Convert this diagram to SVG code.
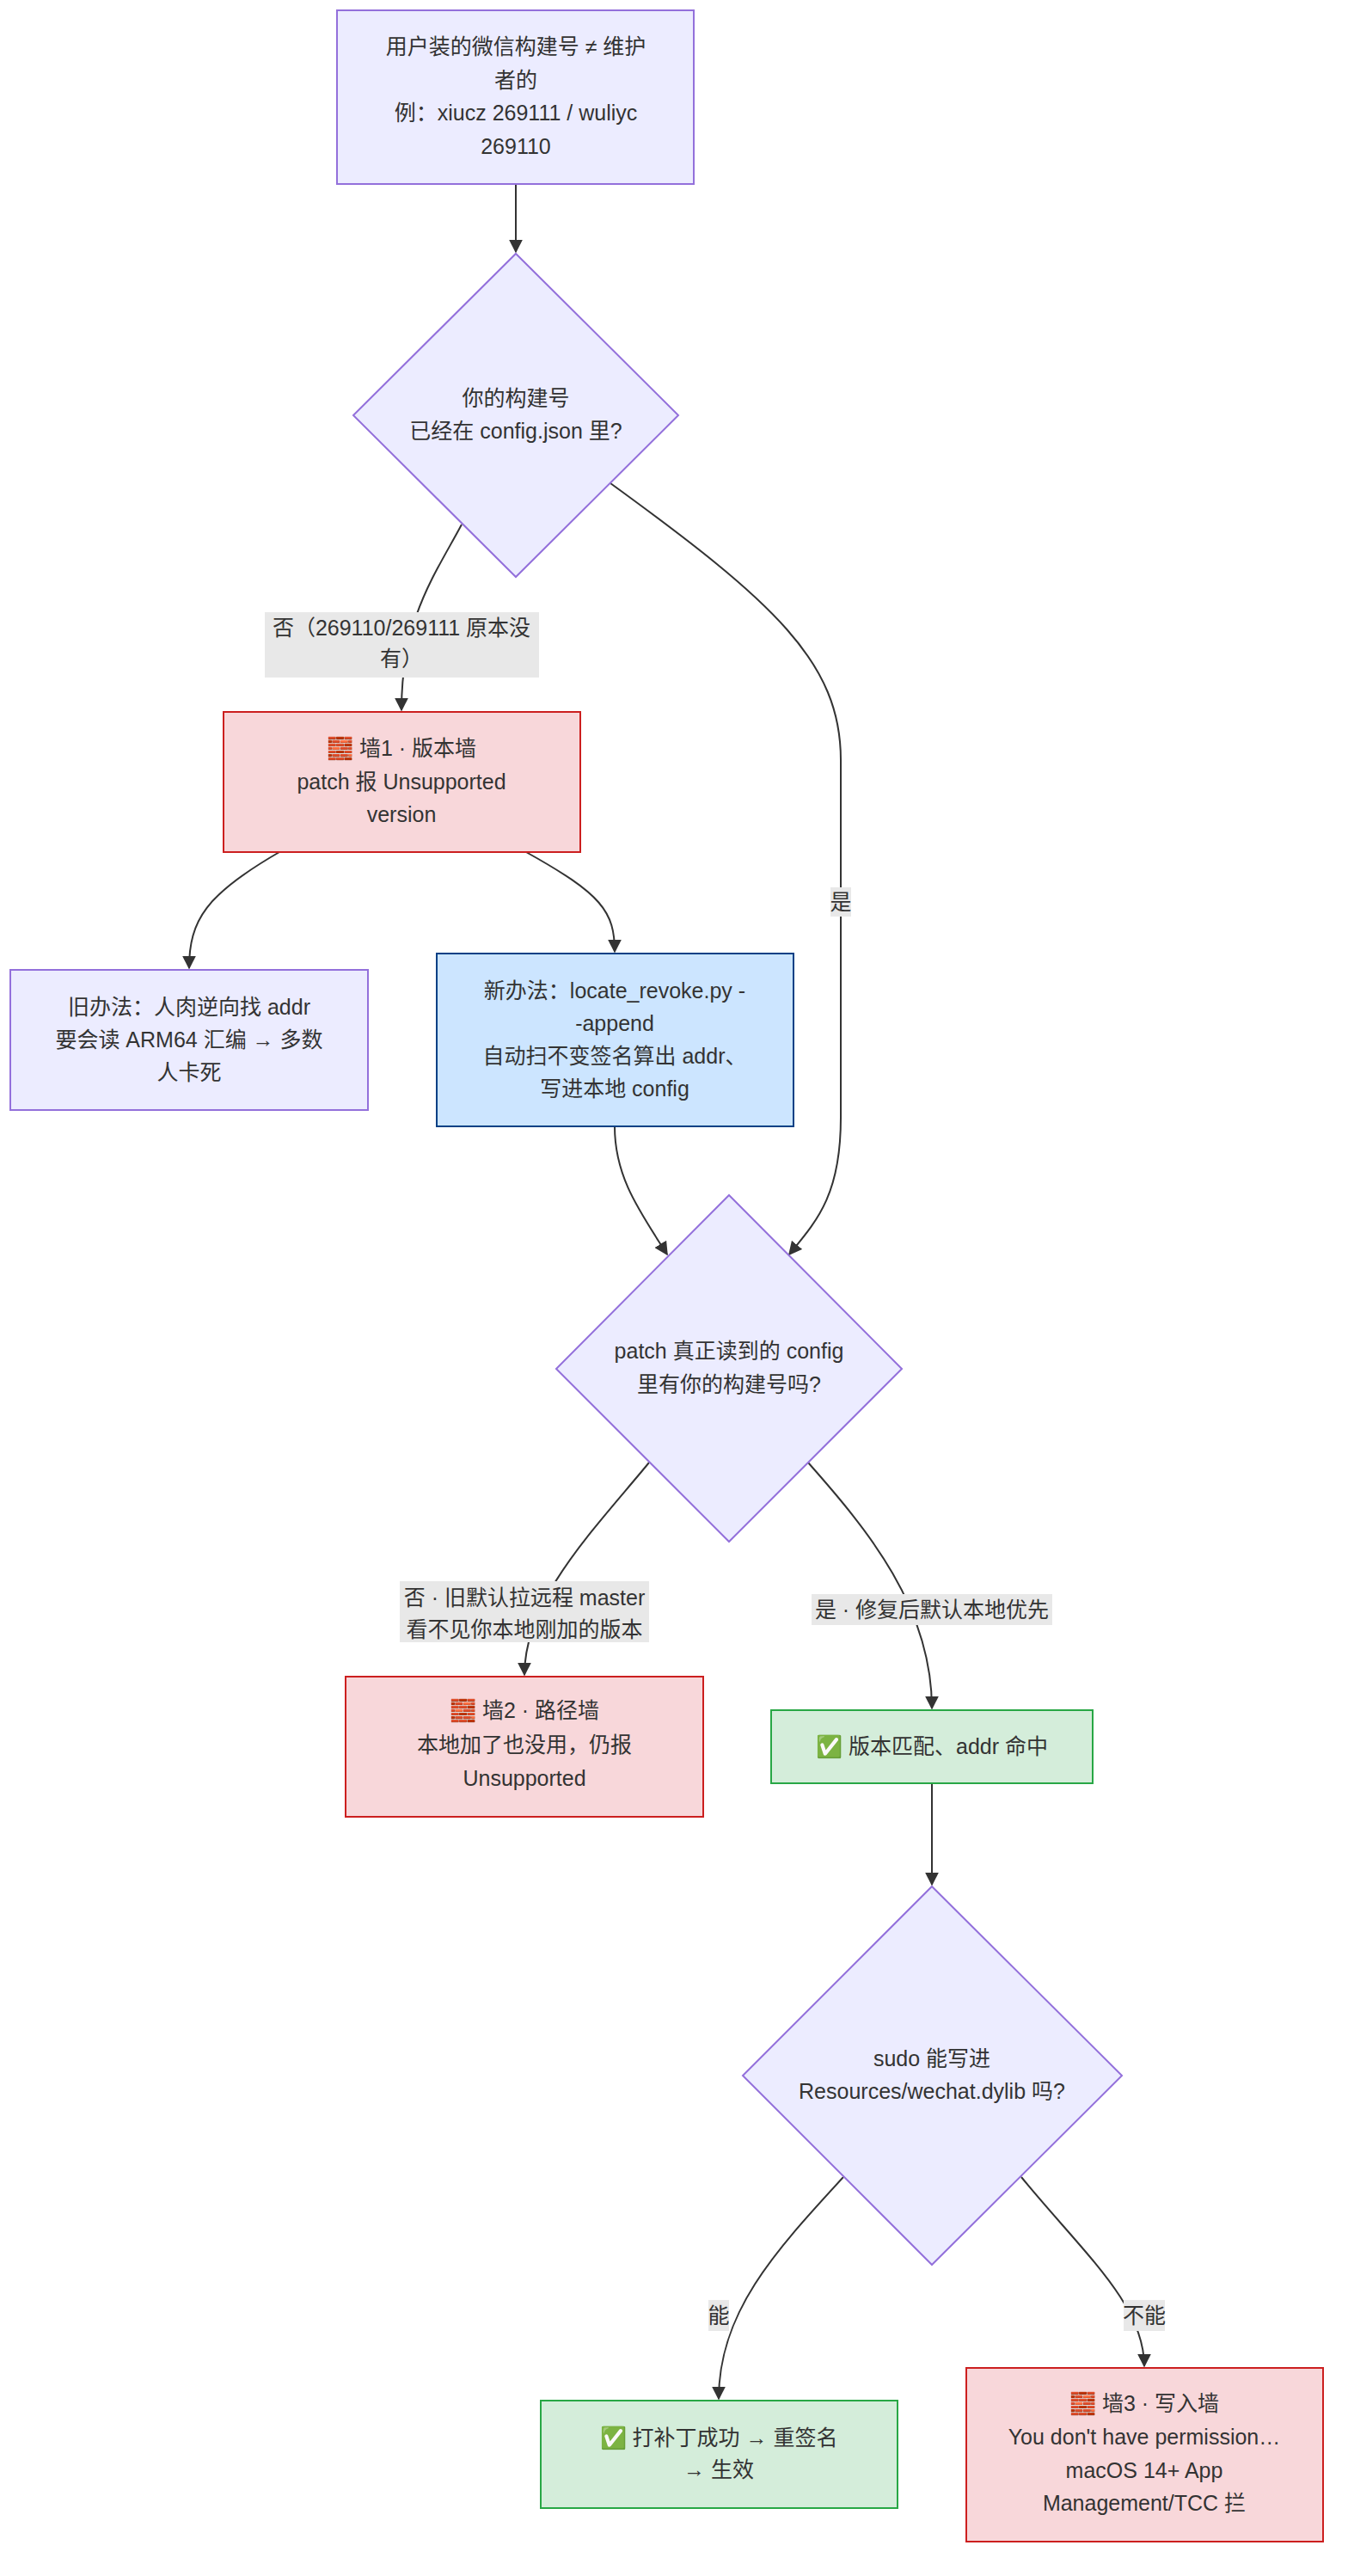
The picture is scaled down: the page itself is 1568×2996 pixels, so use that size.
<svg xmlns="http://www.w3.org/2000/svg" width="1568" height="2996" viewBox="0 0 1568 2996">
<style>
text{font-family:"Liberation Sans","Noto Sans CJK SC",sans-serif;font-size:25px;fill:#333;text-anchor:middle}
.p{fill:#ECECFF;stroke:#9370DB;stroke-width:2}
.r{fill:#F8D7DA;stroke:#CC1F1F;stroke-width:2}
.b{fill:#CCE5FF;stroke:#004085;stroke-width:2}
.g{fill:#D4EDDA;stroke:#28A745;stroke-width:2}
.e{fill:none;stroke:#333;stroke-width:2;marker-end:url(#a)}
.lb{fill:#E8E8E8}
</style>
<defs><marker id="a" viewBox="0 0 10 10" refX="9" refY="5" markerWidth="8" markerHeight="8" orient="auto"><path d="M0,0L10,5L0,10z" fill="#333"/></marker></defs>
<g id="edges">
<path class="e" d="M600,214V293"/>
<path class="e" d="M537,610C505,670 467,720 467,826"/>
<path class="e" d="M710,562C900,700 978,770 978,884V1300C978,1390 950,1420 918,1459"/>
<path class="e" d="M325,991C240,1040 220,1070 220,1126"/>
<path class="e" d="M612,991C700,1040 715,1060 715,1107"/>
<path class="e" d="M715,1310C715,1370 745,1410 776,1459"/>
<path class="e" d="M755,1701C690,1780 610,1860 610,1948"/>
<path class="e" d="M940,1701C1010,1780 1084,1870 1084,1987"/>
<path class="e" d="M1084,2074V2192"/>
<path class="e" d="M981,2532C900,2620 836,2690 836,2790"/>
<path class="e" d="M1188,2532C1260,2620 1331,2680 1331,2752"/>
<rect class="lb" x="308" y="712" width="319" height="76"/>
<text x="467" y="739">否（269110/269111 原本没</text><text x="467" y="775">有）</text>
<rect class="lb" x="966" y="1032" width="24" height="34"/>
<text x="978" y="1058">是</text>
<rect class="lb" x="465" y="1839" width="290" height="71"/>
<text x="610" y="1867">否 · 旧默认拉远程 master</text><text x="610" y="1904">看不见你本地刚加的版本</text>
<rect class="lb" x="944" y="1854" width="280" height="36"/>
<text x="1084" y="1881">是 · 修复后默认本地优先</text>
<rect class="lb" x="824" y="2675" width="24" height="36"/>
<text x="836" y="2702">能</text>
<rect class="lb" x="1307" y="2675" width="48" height="36"/>
<text x="1331" y="2702">不能</text>
</g>
<g id="n1"><rect class="p" x="392" y="12" width="415" height="202"/>
<text x="600" y="63">用户装的微信构建号 ≠ 维护</text><text x="600" y="102">者的</text><text x="600" y="140">例：xiucz 269111 / wuliyc</text><text x="600" y="179">269110</text></g>
<g id="d1"><polygon class="p" points="600,295 789,483 600,671 411,483"/>
<text x="600" y="472">你的构建号</text><text x="600" y="510">已经在 config.json 里?</text></g>
<g id="w1"><rect class="r" x="260" y="828" width="415" height="163"/>
<text x="467" y="879">🧱 墙1 · 版本墙</text><text x="467" y="918">patch 报 Unsupported</text><text x="467" y="956">version</text></g>
<g id="old"><rect class="p" x="12" y="1128" width="416" height="163"/>
<text x="220" y="1180">旧办法：人肉逆向找 addr</text><text x="220" y="1218">要会读 ARM64 汇编 → 多数</text><text x="220" y="1256">人卡死</text></g>
<g id="new"><rect class="b" x="508" y="1109" width="415" height="201"/>
<text x="715" y="1161">新办法：locate_revoke.py -</text><text x="715" y="1199">-append</text><text x="715" y="1237">自动扫不变签名算出 addr、</text><text x="715" y="1275">写进本地 config</text></g>
<g id="d2"><polygon class="p" points="848,1390 1049,1592 848,1793 647,1592"/>
<text x="848" y="1580">patch 真正读到的 config</text><text x="848" y="1619">里有你的构建号吗?</text></g>
<g id="w2"><rect class="r" x="402" y="1950" width="416" height="163"/>
<text x="610" y="1998">🧱 墙2 · 路径墙</text><text x="610" y="2038">本地加了也没用，仍报</text><text x="610" y="2077">Unsupported</text></g>
<g id="ok1"><rect class="g" x="897" y="1989" width="374" height="85"/>
<text x="1084" y="2040">✅ 版本匹配、addr 命中</text></g>
<g id="d3"><polygon class="p" points="1084,2194 1305,2414 1084,2634 864,2414"/>
<text x="1084" y="2403">sudo 能写进</text><text x="1084" y="2441">Resources/wechat.dylib 吗?</text></g>
<g id="ok2"><rect class="g" x="629" y="2792" width="415" height="125"/>
<text x="836" y="2844">✅ 打补丁成功 → 重签名</text><text x="836" y="2881">→ 生效</text></g>
<g id="w3"><rect class="r" x="1124" y="2754" width="415" height="202"/>
<text x="1331" y="2804">🧱 墙3 · 写入墙</text><text x="1331" y="2843">You don't have permission…</text><text x="1331" y="2882">macOS 14+ App</text><text x="1331" y="2920">Management/TCC 拦</text></g>
</svg>
